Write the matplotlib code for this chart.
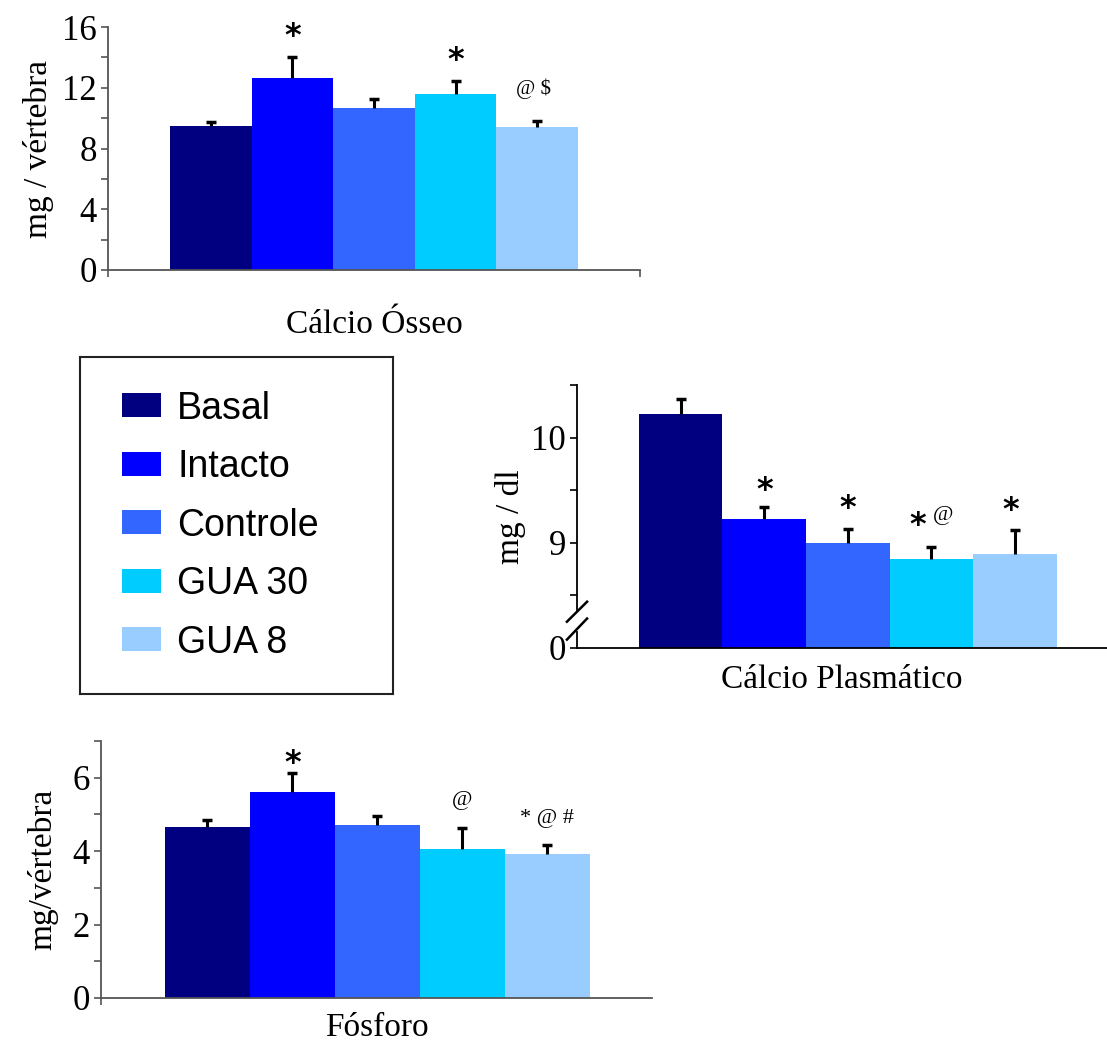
import numpy as np
import matplotlib.pyplot as plt
from matplotlib.patches import Patch
import matplotlib.transforms as mtransforms

grupos = ['Basal', 'Intacto', 'Controle', 'GUA 30', 'GUA 8']
cores = ['#000080', '#0000FF', '#3366FF', '#00CCFF', '#99CCFF']

# calcio osseo (mg / vertebra)
ca_osseo = [9.48, 12.65, 10.65, 11.6, 9.43]
ca_osseo_ep = [0.27, 1.4, 0.62, 0.87, 0.41]
# calcio plasmatico (mg / dl)
ca_plasma = [10.22, 9.23, 9.0, 8.85, 8.89]
ca_plasma_ep = [0.15, 0.11, 0.13, 0.11, 0.23]
# fosforo (mg/vertebra)
fosforo = [4.65, 5.6, 4.72, 4.07, 3.91]
fosforo_ep = [0.2, 0.53, 0.25, 0.57, 0.25]

W, H = 1107, 1041
fig = plt.figure(figsize=(W / 100, H / 100), dpi=100)
serif = 'Liberation Serif'

def eixo(x0, y0, x1, y1):
    # pixels -> coordenadas da figura
    return fig.add_axes([x0 / W, 1 - y1 / H, (x1 - x0) / W, (y1 - y0) / H])

def barras(ax, vals, ep, cor_eixo):
    x = np.arange(len(vals))
    ax.bar(x, vals, width=1.0, color=cores, linewidth=0)
    eb = ax.errorbar(x, vals, yerr=[np.zeros(len(ep)), ep], fmt='none', ecolor='black',
                     elinewidth=2.2, capsize=3.5, capthick=2.5)
    eb[1][0].set_visible(False)  # so a barra de erro superior
    for s in ['top', 'right']:
        ax.spines[s].set_visible(False)
    for s in ['left', 'bottom']:
        ax.spines[s].set_color(cor_eixo)
        ax.spines[s].set_linewidth(1.3)
    ax.tick_params(axis='y', which='both', direction='out', length=5, width=1.2,
                   color=cor_eixo, labelsize=25, pad=3)
    ax.tick_params(axis='x', direction='out', length=5, width=1.2, color=cor_eixo)

def nota(ax, x, y, s, size=15, fam=serif, bold=False):
    ax.text(x, y, s, ha='center', va='center', fontsize=size, family=fam,
            fontweight='bold' if bold else 'normal')

def serifa(ax):
    for lab in ax.get_yticklabels():
        lab.set_family(serif)

# ---- Calcio Osseo
ax1 = eixo(108, 27, 640, 270)
barras(ax1, ca_osseo, ca_osseo_ep, '#555555')
ax1.set_xlim(-1.26, 5.26)
ax1.set_ylim(0, 16)
ax1.set_yticks([0, 4, 8, 12, 16])
ax1.set_yticks([2, 6, 10, 14], minor=True)
ax1.set_xticks([-1.26, 5.26])
ax1.set_xticklabels(['', ''])
serifa(ax1)
ax1.set_ylabel('mg / vértebra', family=serif, fontsize=24, labelpad=6)
ax1.set_xlabel('Cálcio Ósseo', family=serif, fontsize=24, labelpad=20)
nota(ax1, 1, 15.4, '*', 23, 'DejaVu Sans', True)
nota(ax1, 3, 13.8, '*', 23, 'DejaVu Sans', True)
nota(ax1, 3.95, 11.95, '@ $', 15)

# ---- Calcio Plasmatico (eixo quebrado: 8.0 representa 0)
base = 8.0
ax2 = eixo(577, 385, 1107, 648)
barras(ax2, ca_plasma, ca_plasma_ep, 'black')
ax2.set_xlim(-1.24, 5.1)
ax2.set_ylim(base, 10.5)
ax2.set_yticks([base, 9, 10])
ax2.set_yticklabels(['0', '9', '10'])
ax2.set_yticks([8.5, 9.5, 10.5], minor=True)
ax2.set_xticks([])
serifa(ax2)
ax2.spines['left'].set_bounds(8.36, 10.5)
tr = mtransforms.blended_transform_factory(ax2.transAxes, ax2.transData)
ax2.plot([0, 0], [base, 8.15], color='black', lw=1.3, transform=tr, clip_on=False)
ax2.plot([-0.019, 0.019], [8.25, 8.44], color='black', lw=1.8, transform=tr, clip_on=False)
ax2.plot([-0.019, 0.019], [8.08, 8.28], color='black', lw=1.8, transform=tr, clip_on=False)
ax2.set_ylabel('mg / dl', family=serif, fontsize=24, labelpad=4)
ax2.set_xlabel('Cálcio Plasmático', family=serif, fontsize=24, labelpad=12)
nota(ax2, 1, 9.5, '*', 23, 'DejaVu Sans', True)
nota(ax2, 2, 9.33, '*', 23, 'DejaVu Sans', True)
nota(ax2, 2.84, 9.16, '*', 23, 'DejaVu Sans', True)
nota(ax2, 3.14, 9.26, '@', 16)
nota(ax2, 3.95, 9.31, '*', 23, 'DejaVu Sans', True)

# ---- Fosforo
ax3 = eixo(101, 741, 652, 998)
barras(ax3, fosforo, fosforo_ep, '#555555')
ax3.set_xlim(-1.25, 5.23)
ax3.set_ylim(0, 7)
ax3.set_yticks([0, 2, 4, 6])
ax3.set_yticks([1, 3, 5, 7], minor=True)
ax3.set_xticks([-1.25])
ax3.set_xticklabels([''])
serifa(ax3)
ax3.set_ylabel('mg/vértebra', family=serif, fontsize=24, labelpad=10)
ax3.set_xlabel('Fósforo', family=serif, fontsize=24, labelpad=2)
nota(ax3, 1, 6.4, '*', 23, 'DejaVu Sans', True)
nota(ax3, 3, 5.38, '@', 16)
nota(ax3, 4.0, 4.88, '* @ #', 16)

# ---- legenda
axl = eixo(80, 357, 393, 694)
axl.set_xticks([])
axl.set_yticks([])
for s in axl.spines.values():
    s.set_linewidth(1.5)
    s.set_color('#222222')
handles = [Patch(facecolor=c, edgecolor='none') for c in cores]
axl.legend(handles, grupos, loc='upper left', bbox_to_anchor=(0.074, 0.956), frameon=False,
           prop={'family': 'Liberation Sans', 'size': 27}, handlelength=1.04,
           handleheight=0.61, handletextpad=0.43, labelspacing=0.6,
           borderaxespad=0, borderpad=0.5)

fig.savefig('out.png', dpi=100)
